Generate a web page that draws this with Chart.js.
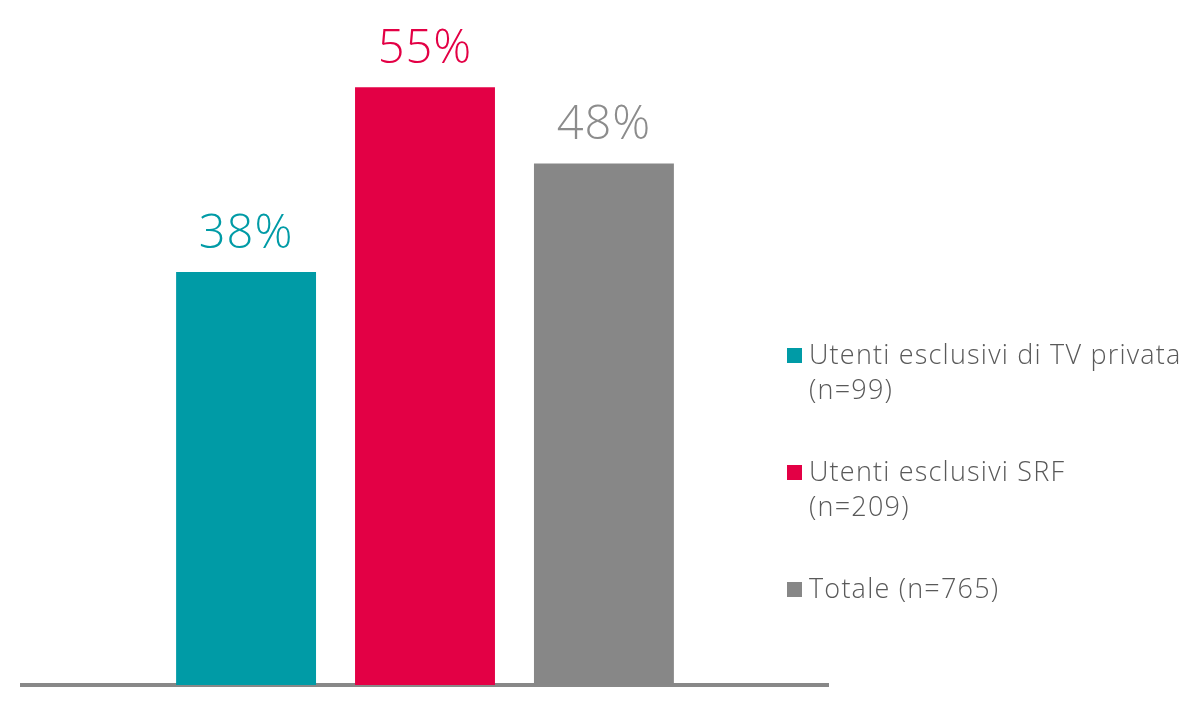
<!DOCTYPE html>
<html>
<head>
<meta charset="utf-8">
<style>
  html, body { margin: 0; padding: 0; background: #fff; }
  #wrap { width: 1200px; height: 718px; }
</style>
<script src="https://cdn.jsdelivr.net/npm/chart.js@4"></script>
</head>
<body>
<div id="wrap"><canvas id="barChart" width="1200" height="718"></canvas></div>
<script>
        // Data
        const categories = [''];
        const seriesNames = [
            ['Utenti esclusivi di TV privata', '(n=99)'],
            ['Utenti esclusivi SRF', '(n=209)'],
            ['Totale (n=765)']
        ];
        const seriesValues = [38, 55, 48];
        const seriesColors = ['#009ba6', '#e30045', '#878787'];
        const labelColors = ['#009ba6', '#e30045', '#8c8c8c'];

        const fontFamily = "'Open Sans', 'Lato', sans-serif";

        // Percent labels above bars
        const valueLabels = {
            id: 'valueLabels',
            afterDatasetsDraw(chart) {
                const ctx = chart.ctx;
                ctx.save();
                ctx.font = '300 47px ' + fontFamily;
                ctx.letterSpacing = '1px';
                ctx.textAlign = 'center';
                ctx.textBaseline = 'bottom';
                chart.data.datasets.forEach((ds, i) => {
                    const bar = chart.getDatasetMeta(i).data[0];
                    ctx.fillStyle = labelColors[i];
                    ctx.fillText(ds.data[0] + '%', bar.x, bar.y - 14);
                });
                ctx.restore();
            }
        };

        // Legend on the right, with two-line labels
        const sideLegend = {
            id: 'sideLegend',
            afterDraw(chart) {
                const ctx = chart.ctx;
                ctx.save();
                ctx.font = '300 27px ' + fontFamily;
                ctx.letterSpacing = '1.2px';
                ctx.textBaseline = 'middle';
                let y = 356;
                seriesNames.forEach((lines, i) => {
                    ctx.fillStyle = seriesColors[i];
                    ctx.fillRect(787, y - 8, 15, 15);
                    ctx.fillStyle = '#595959';
                    lines.forEach((line, j) => {
                        ctx.fillText(line, 809, y + j * 35);
                    });
                    y += 117;
                });
                ctx.restore();
            }
        };

        const ctx = document.getElementById('barChart').getContext('2d');
        const barChart = new Chart(ctx, {
            type: 'bar',
            data: {
                labels: categories,
                datasets: seriesValues.map((v, i) => ({
                    label: seriesNames[i].join(' '),
                    data: [v],
                    backgroundColor: seriesColors[i],
                    categoryPercentage: 0.666,
                    barPercentage: 0.782
                }))
            },
            options: {
                responsive: false,
                animation: false,
                layout: {
                    padding: { left: 22, right: 372, top: 33, bottom: 25 }
                },
                scales: {
                    x: {
                        grid: { display: false },
                        ticks: { display: false },
                        border: { color: '#888888', width: 4 }
                    },
                    y: {
                        display: false,
                        min: 0,
                        max: 60
                    }
                },
                plugins: {
                    legend: { display: false },
                    tooltip: { enabled: false }
                }
            },
            plugins: [valueLabels, sideLegend]
        });
</script>
</body>
</html>
